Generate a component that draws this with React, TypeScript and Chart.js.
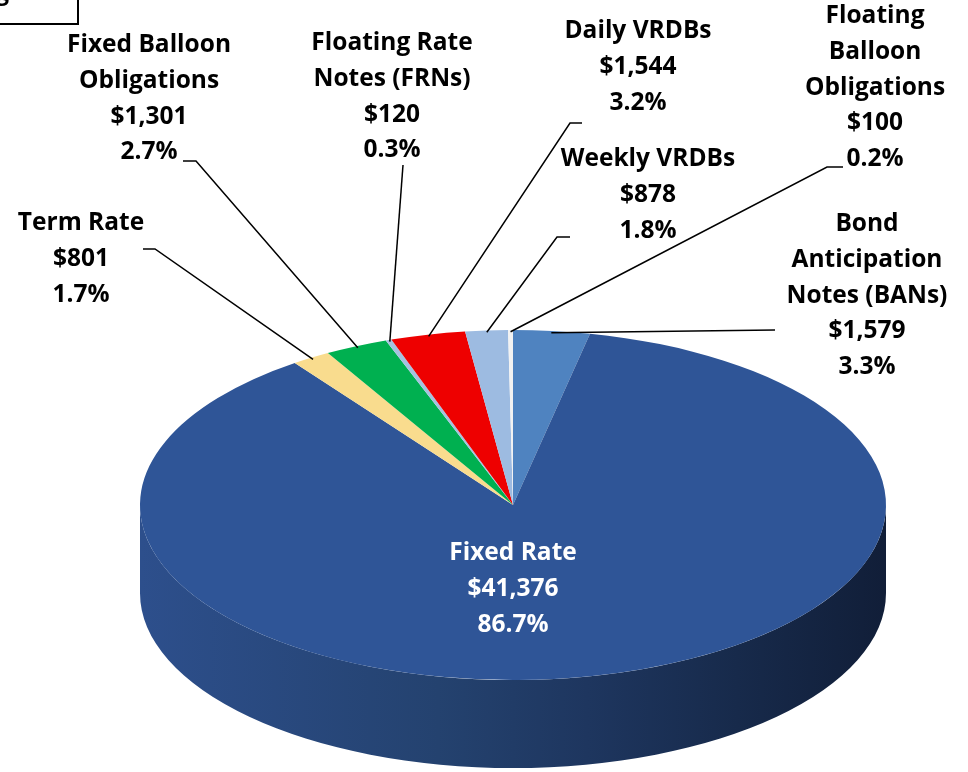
import { useEffect, useRef } from 'react';
import { Chart, registerables } from 'chart.js';

Chart.register(...registerables);

// ---- data ----
const categories = [
  'Bond Anticipation Notes (BANs)',
  'Fixed Rate',
  'Term Rate',
  'Fixed Balloon Obligations',
  'Floating Rate Notes (FRNs)',
  'Daily VRDBs',
  'Weekly VRDBs',
  'Floating Balloon Obligations',
];
const amounts = [1579, 41376, 801, 1301, 120, 1544, 878, 100];
const labelLines = [
  ['Bond', 'Anticipation', 'Notes (BANs)'],
  ['Fixed Rate'],
  ['Term Rate'],
  ['Fixed Balloon', 'Obligations'],
  ['Floating Rate', 'Notes (FRNs)'],
  ['Daily VRDBs'],
  ['Weekly VRDBs'],
  ['Floating', 'Balloon', 'Obligations'],
];

// ---- styles / layout ----
const sliceColors = ['#4f83c0', '#2f5597', '#f9dc8e', '#00b050', '#a6c1e0', '#ee0000', '#9dbbe1', '#f2f2f2'];
const sideColors = ['#2f5a8c', '#24416f', '#b89f5e', '#007a38', '#6f88a8', '#a80000', '#6d8cb0', '#b0b0b0'];
const CX = 513, CY = 505, RX = 373, RY = 175, DEPTH = 88;
const LINE_H = 35.8;
const FONT = 'bold 24.5px "Open Sans", Lato, sans-serif';
// text centre x, first line y
const labelPos: [number, number][] = [
  [867, 224], [513, 553], [81, 223], [149, 45], [392, 43], [638, 31], [648, 159], [875, 16],
];
const labelColor = ['#000', '#fff', '#000', '#000', '#000', '#000', '#000', '#000'];
// leader polyline points before reaching the slice (null = no leader)
const leaders: ([number, number][] | null)[] = [
  [[775, 330]],
  null,
  [[143, 249], [155, 249]],
  [[183, 161], [196, 161]],
  [[403, 165]],
  [[582, 123], [570, 123]],
  [[570, 237], [557, 237]],
  [[843, 167], [827, 167]],
];

const total = amounts.reduce((a, b) => a + b, 0);
const fmt = (v: number) => '$' + v.toLocaleString('en-US');
const pct = (v: number) => ((v / total) * 100).toFixed(1) + '%';

const pie3d = {
  id: 'pie3d',
  beforeDatasetsDraw(chart: any) {
    const ctx: CanvasRenderingContext2D = chart.ctx;
    const arcs = chart.getDatasetMeta(0).data;
    const grad = ctx.createLinearGradient(CX - RX, 0, CX + RX, 0);
    grad.addColorStop(0, '#2d4f8c');
    grad.addColorStop(0.4, '#24426f');
    grad.addColorStop(0.6, '#1e365f');
    grad.addColorStop(0.8, '#172a4b');
    grad.addColorStop(1, '#111e38');
    arcs.forEach((arc: any, i: number) => {
      const a0 = Math.max(arc.startAngle, 0);
      const a1 = Math.min(arc.endAngle, Math.PI);
      if (a1 <= a0) return;
      ctx.beginPath();
      ctx.ellipse(CX, CY, RX, RY, 0, a0, a1);
      ctx.ellipse(CX, CY + DEPTH, RX, RY, 0, a1, a0, true);
      ctx.closePath();
      ctx.fillStyle = i === 1 ? grad : sideColors[i];
      ctx.fill();
    });
    const a = arcs[0];
    const R = a.outerRadius;
    ctx.save();
    ctx.translate(CX, CY);
    ctx.scale(RX / R, RY / R);
    ctx.translate(-a.x, -a.y);
  },
  afterDatasetsDraw(chart: any) {
    const ctx: CanvasRenderingContext2D = chart.ctx;
    ctx.restore();
    const arcs = chart.getDatasetMeta(0).data;
    ctx.save();
    // leader lines
    ctx.strokeStyle = '#000';
    ctx.lineWidth = 1.5;
    arcs.forEach((arc: any, i: number) => {
      const pts = leaders[i];
      if (!pts) return;
      const mid = (arc.startAngle + arc.endAngle) / 2;
      const ax = CX + RX * 0.99 * Math.cos(mid);
      const ay = CY + RY * 0.99 * Math.sin(mid);
      ctx.beginPath();
      ctx.moveTo(pts[0][0], pts[0][1]);
      for (let k = 1; k < pts.length; k++) ctx.lineTo(pts[k][0], pts[k][1]);
      ctx.lineTo(ax, ay);
      ctx.stroke();
    });
    // labels
    ctx.font = FONT;
    ctx.textAlign = 'center';
    ctx.textBaseline = 'middle';
    categories.forEach((_, i) => {
      const lines = [...labelLines[i], fmt(amounts[i]), pct(amounts[i])];
      const [x, y] = labelPos[i];
      ctx.fillStyle = labelColor[i];
      lines.forEach((t, k) => ctx.fillText(t, x, y + k * LINE_H));
    });
    // cropped title box at top-left
    ctx.lineWidth = 2;
    ctx.strokeRect(-5, -5, 83, 29);
    ctx.fillStyle = '#000';
    ctx.textAlign = 'right';
    ctx.textBaseline = 'alphabetic';
    ctx.fillText('Financing', 9, 0);
    ctx.restore();
  },
};

export default function App() {
  const ref = useRef<HTMLCanvasElement>(null);
  useEffect(() => {
    const chart = new Chart(ref.current!, {
      type: 'pie',
      data: {
        labels: categories,
        datasets: [
          {
            data: amounts,
            backgroundColor: sliceColors,
            borderWidth: 0,
          },
        ],
      },
      options: {
        responsive: false,
        animation: false,
        plugins: { legend: { display: false }, tooltip: { enabled: false } },
      },
      plugins: [pie3d],
    });
    return () => chart.destroy();
  }, []);
  return (
    <div style={{ position: 'fixed', left: 0, top: 0, width: 968, height: 772, overflow: 'hidden', background: '#fff' }}>
      <canvas ref={ref} width={968} height={772} style={{ display: 'block' }} />
    </div>
  );
}
